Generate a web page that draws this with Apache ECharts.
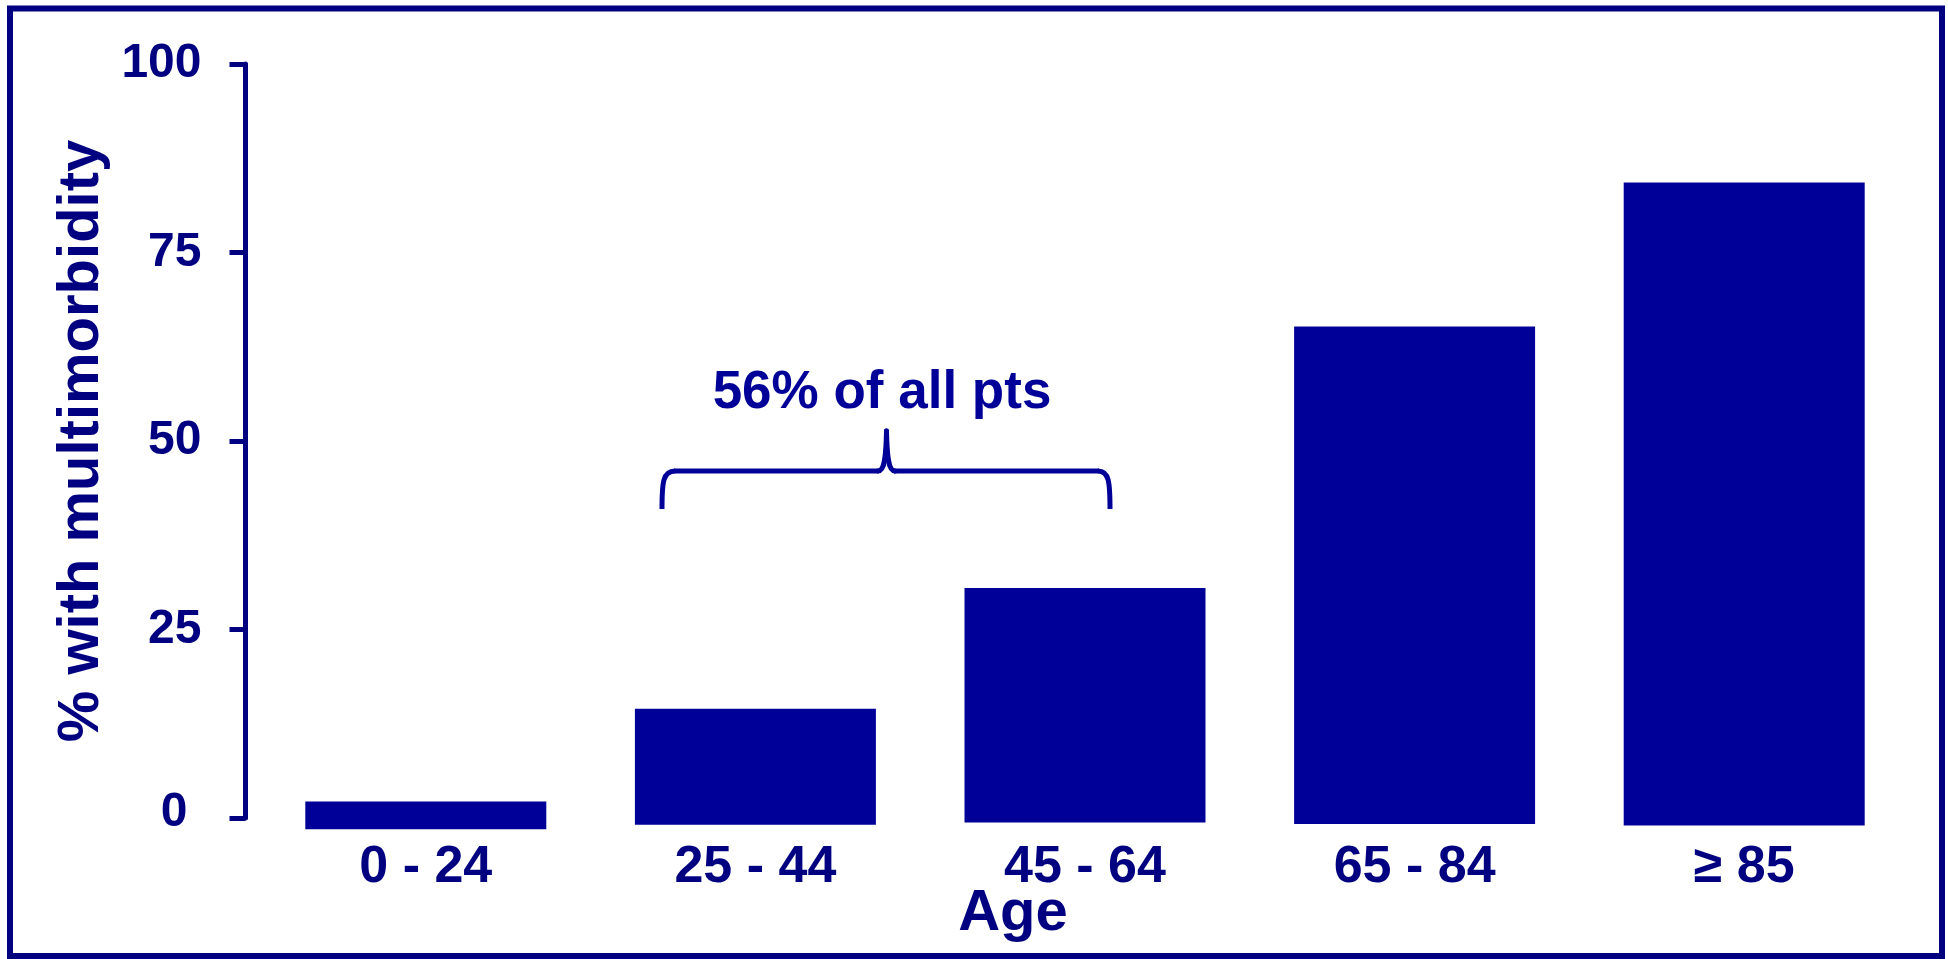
<!DOCTYPE html>
<html>
<head>
<meta charset="utf-8">
<title>% with multimorbidity by age</title>
<script src="https://cdn.jsdelivr.net/npm/echarts@6/dist/echarts.min.js"></script>
<style>
  html, body { margin: 0; padding: 0; background: #ffffff; }
  #chart { width: 1948px; height: 959px; }
</style>
</head>
<body>
<div id="chart"></div>
<script>
// Age bands and share of patients with multimorbidity (%)
const ageGroups = ['0 - 24', '25 - 44', '45 - 64', '65 - 84', '\u2265 85'];
const multimorbidityPct = [2.2, 14.5, 30.5, 65.2, 84.3];
// Foot of each bar (bars sit slightly below the zero line)
const barFoot = [-1.5, -0.9, -0.6, -0.8, -1.0];
// Value axis ticks
const yTicks = [0, 25, 50, 75, 100];
const annotationText = '56% of all pts';

const NAVY = '#000080';
const BAR = '#000099';
const FONT = '"Liberation Sans", Arial, Helvetica, sans-serif';

const chart = echarts.init(document.getElementById('chart'), null, { renderer: 'canvas' });

const option = {
  backgroundColor: '#ffffff',
  animation: false,
  grid: { left: 261, right: 39, top: 64, bottom: 141 },
  xAxis: {
    type: 'category',
    data: ageGroups,
    axisLine: { show: false },
    axisTick: { show: false },
    axisLabel: {
      color: NAVY,
      fontFamily: FONT,
      fontWeight: 'bold',
      fontSize: 52,
      margin: 24,
      interval: 0
    },
    splitLine: { show: false }
  },
  yAxis: {
    type: 'value',
    min: yTicks[0],
    max: yTicks[yTicks.length - 1],
    interval: yTicks[1] - yTicks[0],
    offset: 15.5,
    name: '% with multimorbidity',
    nameLocation: 'middle',
    nameRotate: 90,
    nameGap: 133,
    nameTextStyle: {
      color: NAVY,
      fontFamily: FONT,
      fontWeight: 'bold',
      fontSize: 58
    },
    axisLine: { show: true, lineStyle: { color: NAVY, width: 5 } },
    axisTick: { show: true, length: 16, lineStyle: { color: NAVY, width: 5 } },
    splitLine: { show: false },
    axisLabel: {
      color: NAVY,
      fontFamily: FONT,
      fontWeight: 'bold',
      fontSize: 48,
      margin: 44,
      formatter: v => (v === 0 ? '{z|0}' : String(v)),
      rich: {
        z: {
          color: NAVY,
          fontFamily: FONT,
          fontWeight: 'bold',
          fontSize: 48,
          padding: [0, 14, 10, 0]
        }
      }
    }
  },
  series: [{
    type: 'custom',
    name: '% with multimorbidity',
    data: ageGroups.map((g, i) => [i, barFoot[i], multimorbidityPct[i]]),
    encode: { x: 0, y: [1, 2] },
    renderItem: function (params, api) {
      const idx = api.value(0);
      const foot = api.coord([idx, api.value(1)]);
      const top = api.coord([idx, api.value(2)]);
      const w = 241;
      return {
        type: 'rect',
        shape: { x: foot[0] - w / 2, y: top[1], width: w, height: foot[1] - top[1] },
        style: { fill: BAR }
      };
    }
  }],
  graphic: [
    // outer frame
    {
      type: 'rect',
      shape: { x: 10, y: 8.5, width: 1932, height: 947.5 },
      style: { fill: 'none', stroke: NAVY, lineWidth: 6 },
      z: 10
    },
    // x axis title
    {
      type: 'text',
      x: 1013, y: 914,
      style: {
        text: 'Age', fill: NAVY,
        font: 'bold 58px ' + FONT,
        textAlign: 'center', textVerticalAlign: 'middle'
      }
    },
    // annotation text above the brace
    {
      type: 'text',
      x: 882, y: 393,
      style: {
        text: annotationText, fill: BAR,
        font: 'bold 53px ' + FONT,
        textAlign: 'center', textVerticalAlign: 'middle'
      }
    },
    // curly brace spanning the two middle-age bands
    {
      type: 'group',
      children: [
        { type: 'bezierCurve', shape: { x1: 662, y1: 509, cpx1: 662, cpy1: 482, cpx2: 663, cpy2: 471, x2: 675, y2: 471 },
          style: { stroke: BAR, lineWidth: 5, fill: 'none' } },
        { type: 'line', shape: { x1: 674, y1: 471, x2: 879, y2: 471 },
          style: { stroke: BAR, lineWidth: 5 } },
        { type: 'bezierCurve', shape: { x1: 878, y1: 471, cpx1: 885, cpy1: 471, cpx2: 886, cpy2: 456, x2: 886.5, y2: 431 },
          style: { stroke: BAR, lineWidth: 5, fill: 'none', lineCap: 'round' } },
        { type: 'bezierCurve', shape: { x1: 886.5, y1: 431, cpx1: 887, cpy1: 456, cpx2: 888, cpy2: 471, x2: 895, y2: 471 },
          style: { stroke: BAR, lineWidth: 5, fill: 'none', lineCap: 'round' } },
        { type: 'line', shape: { x1: 894, y1: 471, x2: 1099, y2: 471 },
          style: { stroke: BAR, lineWidth: 5 } },
        { type: 'bezierCurve', shape: { x1: 1098, y1: 471, cpx1: 1109, cpy1: 471, cpx2: 1110, cpy2: 482, x2: 1110, y2: 509 },
          style: { stroke: BAR, lineWidth: 5, fill: 'none' } }
      ]
    }
  ]
};

chart.setOption(option);
</script>
</body>
</html>
